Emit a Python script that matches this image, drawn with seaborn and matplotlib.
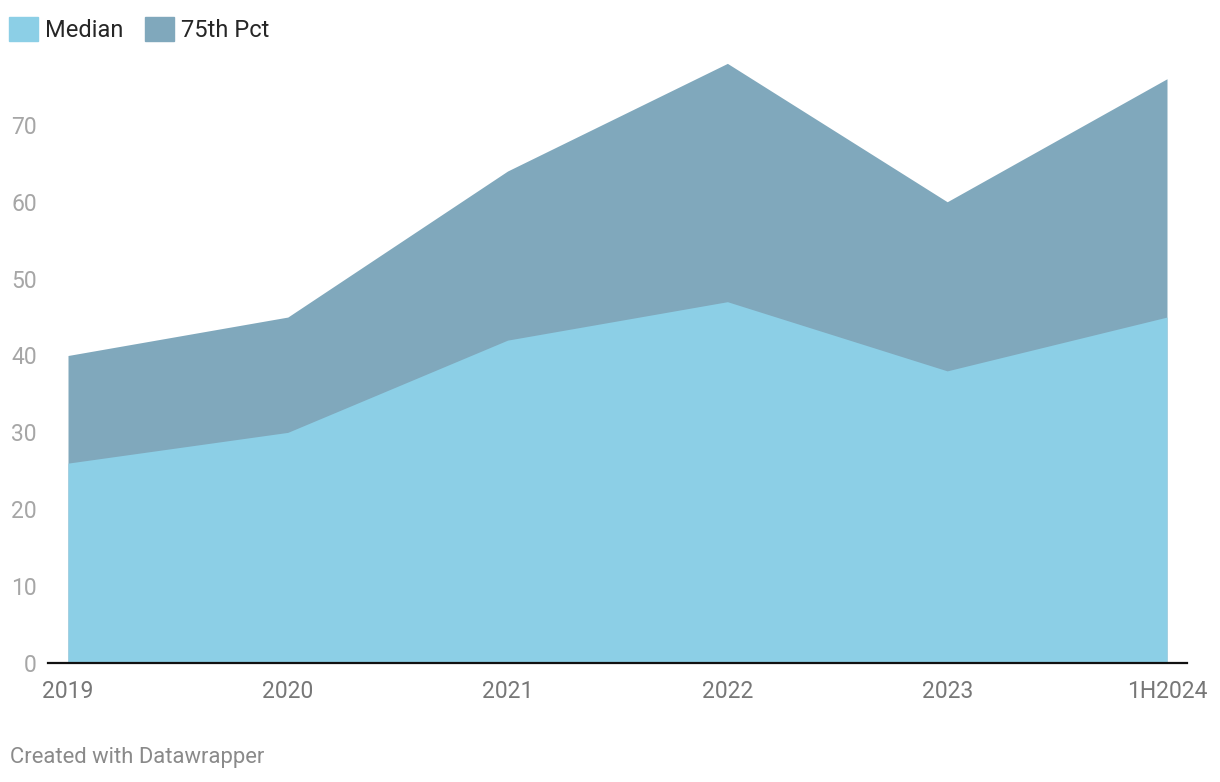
import matplotlib
matplotlib.use('Agg')
import matplotlib.pyplot as plt
from matplotlib.patches import Patch
import seaborn as sns
import pandas as pd

years = ['2019', '2020', '2021', '2022', '2023', '1H2024']
median = [26, 30, 42, 47, 38, 45]
pct75 = [40, 45, 64, 78, 60, 76]

c_median = '#8ccfe6'
c_pct75 = '#80a8bc'

sns.set_theme(style='white')
plt.rcParams['font.family'] = ['Roboto', 'DejaVu Sans']

df = pd.DataFrame({'x': range(len(years)), 'year': years, 'Median': median, '75th Pct': pct75})

fig = plt.figure(figsize=(12.2, 7.82), dpi=100)
ax = fig.add_axes([48 / 1220, 119 / 782, 1139 / 1220, 615 / 782])

# areas overlap (not stacked): 75th behind, median in front
sns.lineplot(data=df, x='x', y='75th Pct', ax=ax, color=c_pct75, lw=0)
ax.fill_between(df['x'], 0, df['75th Pct'], color=c_pct75, lw=0)
ax.fill_between(df['x'], 0, df['Median'], color=c_median, lw=0)

ax.set_xlim(-20 / 219.8, 5 + 20 / 219.8)
ax.set_ylim(0, 80)
ax.set_xticks(df['x'])
ax.set_xticklabels(years, color='#777777', fontsize=16.5)
ax.set_yticks(range(0, 80, 10))
ax.set_yticklabels([str(v) for v in range(0, 80, 10)], color='#a6a6a6', fontsize=16.5)
ax.tick_params(axis='y', length=0, pad=8)
ax.tick_params(axis='x', length=0, pad=12)
ax.set_xlabel('')
ax.set_ylabel('')
for s in ['top', 'right', 'left']:
    ax.spines[s].set_visible(False)
ax.spines['bottom'].set_color('#111111')
ax.spines['bottom'].set_linewidth(1.6)
ax.grid(False)

handles = [Patch(color=c_median, label='Median'), Patch(color=c_pct75, label='75th Pct')]
fig.legend(handles=handles, loc='upper left', bbox_to_anchor=(-0.006, 1.0), ncol=2,
           frameon=False, fontsize=17, handlelength=1.2, handleheight=1.2,
           handletextpad=0.3, columnspacing=0.95, borderaxespad=0.3)

fig.text(10 / 1220, 1 - 757 / 782, 'Created with Datawrapper', color='#8a8a8a',
         fontsize=15.8, va='center', ha='left')

fig.savefig('out.png', dpi=100)
